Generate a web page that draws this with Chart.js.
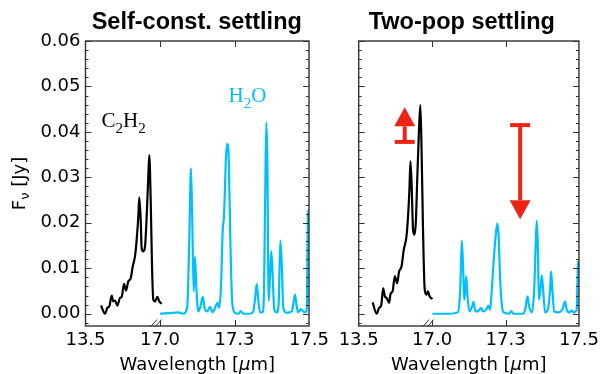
<!DOCTYPE html>
<html>
<head>
<meta charset="utf-8">
<script src="https://cdn.jsdelivr.net/npm/chart.js@4/dist/chart.umd.min.js"></script>
<style>
  html, body { margin: 0; padding: 0; background: #fff; }
  #wrap { position: relative; width: 603px; height: 374px; overflow: hidden; }
  canvas { position: absolute; top: 0; }
  #leftChart { left: 0; }
  #rightChart { left: 334px; }
</style>
</head>
<body>
<div id="wrap">
  <canvas id="leftChart" width="334" height="374"></canvas>
  <canvas id="rightChart" width="269" height="374"></canvas>
</div>
<script>
// Broken wavelength axis: labels sit at 0, 1, 2, 3 on the plot axis
const xTickLabels = ['13.5', '17.0', '17.3', '17.5'];
const yTicks = [0, 0.01, 0.02, 0.03, 0.04, 0.05, 0.06];

// Self-const. settling, C2H2 band
const selfC2h2X = [0.208, 0.262, 0.293, 0.319, 0.352, 0.373, 0.396, 0.427, 0.463, 0.486, 0.517, 0.544,
    0.574, 0.607, 0.634, 0.664, 0.687, 0.709, 0.722, 0.741, 0.754, 0.776, 0.799, 0.821, 0.843, 0.856,
    0.875, 0.893, 0.910, 0.933, 0.964, 0.991, 1.023];
const selfC2h2Y = [0.0018, 0.0000, 0.0013, 0.0016, 0.0040, 0.0027, 0.0029, 0.0018, 0.0035, 0.0037, 0.0066, 0.0051,
    0.0071, 0.0078, 0.0104, 0.0126, 0.0163, 0.0214, 0.0256, 0.0207, 0.0144, 0.0137, 0.0148, 0.0214, 0.0302, 0.0349,
    0.0251, 0.0104, 0.0031, 0.0027, 0.0037, 0.0027, 0.0022];

// Self-const. settling, H2O band
const selfH2oX = [1.000, 1.179, 1.246, 1.313, 1.366, 1.393, 1.416, 1.434, 1.452, 1.470, 1.487, 1.514,
    1.546, 1.573, 1.604, 1.635, 1.671, 1.707, 1.752, 1.774, 1.792, 1.819, 1.842, 1.859, 1.886, 1.903,
    1.922, 1.944, 1.970, 2.007, 2.051, 2.083, 2.118, 2.208, 2.252, 2.279, 2.298, 2.319, 2.342, 2.378,
    2.396, 2.413, 2.427, 2.440, 2.459, 2.477, 2.494, 2.513, 2.534, 2.566, 2.593, 2.615, 2.634, 2.655,
    2.701, 2.768, 2.795, 2.812, 2.835, 2.856, 2.889, 2.923, 2.950, 2.969, 2.987, 3.000];
const selfH2oY = [0.0000, 0.0002, 0.0003, 0.0000, 0.0016, 0.0163, 0.0320, 0.0199, 0.0049, 0.0125, 0.0060, 0.0005,
    0.0018, 0.0037, 0.0009, 0.0005, 0.0015, 0.0003, 0.0018, 0.0024, 0.0013, 0.0060, 0.0185, 0.0214, 0.0346, 0.0374,
    0.0346, 0.0163, 0.0024, 0.0002, 0.0000, 0.0006, 0.0000, 0.0000, 0.0005, 0.0038, 0.0065, 0.0031, 0.0003, 0.0003,
    0.0053, 0.0273, 0.0421, 0.0346, 0.0029, 0.0082, 0.0137, 0.0082, 0.0009, 0.0003, 0.0024, 0.0161, 0.0111, 0.0013,
    0.0002, 0.0005, 0.0027, 0.0042, 0.0016, 0.0003, 0.0010, 0.0005, 0.0003, 0.0009, 0.0221, 0.0229];

// Two-pop settling, C2H2 band
const twoC2h2X = [0.190, 0.244, 0.279, 0.306, 0.333, 0.357, 0.380, 0.415, 0.434, 0.461, 0.492, 0.523,
    0.550, 0.583, 0.614, 0.651, 0.672, 0.691, 0.705, 0.723, 0.740, 0.759, 0.777, 0.800, 0.821, 0.840,
    0.858, 0.876, 0.899, 0.922, 0.943, 0.967, 1.003];
const twoC2h2Y = [0.0025, 0.0000, 0.0013, 0.0018, 0.0056, 0.0038, 0.0035, 0.0024, 0.0044, 0.0049, 0.0082, 0.0067,
    0.0093, 0.0104, 0.0141, 0.0170, 0.0214, 0.0273, 0.0335, 0.0273, 0.0185, 0.0174, 0.0199, 0.0309, 0.0404, 0.0459,
    0.0346, 0.0185, 0.0053, 0.0042, 0.0049, 0.0038, 0.0032];

// Two-pop settling, H2O band
const twoH2oX = [1.003, 1.238, 1.350, 1.383, 1.404, 1.423, 1.437, 1.450, 1.464, 1.482, 1.509, 1.545,
    1.563, 1.590, 1.621, 1.668, 1.690, 1.735, 1.766, 1.789, 1.816, 1.838, 1.861, 1.888, 1.906, 1.925,
    1.952, 1.983, 2.051, 2.078, 2.105, 2.231, 2.268, 2.299, 2.322, 2.359, 2.390, 2.413, 2.426, 2.440,
    2.454, 2.475, 2.494, 2.512, 2.539, 2.576, 2.607, 2.620, 2.638, 2.661, 2.729, 2.783, 2.810, 2.833,
    2.864, 2.901, 2.932, 2.969, 2.987, 3.000];
const twoH2oY = [0.0000, 0.0000, 0.0003, 0.0053, 0.0161, 0.0097, 0.0031, 0.0053, 0.0082, 0.0038, 0.0005, 0.0016,
    0.0026, 0.0005, 0.0005, 0.0013, 0.0005, 0.0009, 0.0018, 0.0009, 0.0060, 0.0115, 0.0163, 0.0199, 0.0170, 0.0082,
    0.0016, 0.0002, 0.0000, 0.0006, 0.0000, 0.0000, 0.0009, 0.0038, 0.0016, 0.0003, 0.0053, 0.0163, 0.0205, 0.0148,
    0.0031, 0.0053, 0.0084, 0.0053, 0.0003, 0.0009, 0.0053, 0.0093, 0.0053, 0.0005, 0.0003, 0.0013, 0.0027, 0.0009,
    0.0003, 0.0007, 0.0003, 0.0009, 0.0111, 0.0116];

// Red arrows in the two-pop panel (from bar to arrow tip)
const arrowX = [0.627, 2.199];
const arrowFrom = [0.0378, 0.0415];
const arrowTo = [0.0454, 0.0208];

const BLUE = '#00bfff';
const RED = '#ec2415';
const TICK_FONT = '"DejaVu Sans", sans-serif';

function toPoints(xs, ys) {
    return xs.map((x, i) => ({ x: x, y: ys[i] }));
}

// draws text with subscripts, parts = [[text, isSub], ...]
function drawSubText(ctx, parts, x, y, size, subSize, family, subDrop) {
    let cx = x;
    parts.forEach(p => {
        ctx.font = (p[1] ? subSize : size) + 'px ' + family;
        ctx.fillText(p[0], cx, p[1] ? y + subDrop : y);
        cx += ctx.measureText(p[0]).width;
    });
}

// frame, inward ticks, titles and labels
const framePlugin = {
    id: 'frame',
    afterDatasetsDraw(chart, args, o) {
        const { ctx, chartArea: a, scales: { x, y } } = chart;
        ctx.save();

        ctx.strokeStyle = '#333';
        ctx.lineWidth = 1;
        // minor/major ticks on left and right spines
        for (let k = -1; k <= 30; k++) {
            const py = Math.round(y.getPixelForValue(k * 0.002)) + 0.5;
            const len = k % 5 === 0 ? 6 : 3;
            ctx.beginPath();
            ctx.moveTo(a.left, py); ctx.lineTo(a.left + len, py);
            ctx.moveTo(a.right, py); ctx.lineTo(a.right - len, py);
            ctx.stroke();
        }
        [1, 2].forEach(v => {
            const px = Math.round(x.getPixelForValue(v)) + 0.5;
            ctx.beginPath();
            ctx.moveTo(px, a.top); ctx.lineTo(px, a.top + 6);
            ctx.moveTo(px, a.bottom); ctx.lineTo(px, a.bottom - 6);
            ctx.stroke();
        });

        ctx.lineWidth = 1.4;
        ctx.strokeRect(a.left, a.top, a.right - a.left, a.bottom - a.top);

        // axis break marks
        const bx = x.getPixelForValue(1);
        ctx.lineWidth = 1;
        ctx.beginPath();
        ctx.moveTo(bx - 9.5, a.bottom + 1); ctx.lineTo(bx - 3, a.bottom - 6.5);
        ctx.moveTo(bx - 5, a.bottom + 1); ctx.lineTo(bx + 1.5, a.bottom - 6.5);
        ctx.stroke();

        // panel title
        ctx.fillStyle = '#000';
        ctx.textAlign = 'center';
        ctx.textBaseline = 'alphabetic';
        ctx.font = 'bold 23.5px "Liberation Sans", Arial, sans-serif';
        ctx.fillText(o.title, (a.left + a.right) / 2 + o.titleShift, 28.5);

        // x axis title with italic mu
        ctx.textAlign = 'left';
        const cx = (a.left + a.right) / 2;
        const pieces = [['Wavelength [', ''], ['\u03bc', 'italic '], ['m]', '']];
        let total = 0;
        pieces.forEach(p => { ctx.font = p[1] + '18px ' + TICK_FONT; total += ctx.measureText(p[0]).width; });
        let tx = cx - total / 2;
        pieces.forEach(p => {
            ctx.font = p[1] + '18px ' + TICK_FONT;
            ctx.fillText(p[0], tx, 369.5);
            tx += ctx.measureText(p[0]).width;
        });

        if (o.yLabel) {
            ctx.save();
            ctx.translate(25, (a.top + a.bottom) / 2);
            ctx.rotate(-Math.PI / 2);
            ctx.font = '18px ' + TICK_FONT;
            const w1 = ctx.measureText('F').width;
            const w3 = ctx.measureText(' [Jy]').width;
            ctx.font = '13px ' + TICK_FONT;
            const w2 = ctx.measureText('\u03bd').width;
            drawSubText(ctx, [['F', false], ['\u03bd', true], [' [Jy]', false]],
                -(w1 + w2 + w3) / 2, 0, 18, 13, TICK_FONT, 4);
            ctx.restore();
        }

        if (o.species) {
            ctx.fillStyle = '#000';
            drawSubText(ctx, [['C', false], ['2', true], ['H', false], ['2', true]],
                101.5, 126.5, 21, 15, '"Liberation Serif", serif', 6);
            ctx.fillStyle = BLUE;
            drawSubText(ctx, [['H', false], ['2', true], ['O', false]],
                228.5, 101.5, 21, 15, '"Liberation Serif", serif', 6);
        }

        if (o.arrows) {
            ctx.fillStyle = RED;
            arrowX.forEach((v, i) => {
                const px = x.getPixelForValue(v);
                const y0 = y.getPixelForValue(arrowFrom[i]);
                const y1 = y.getPixelForValue(arrowTo[i]);
                const dir = Math.sign(y1 - y0);
                const headBase = y1 - dir * 19;
                ctx.fillRect(px - 10, y0 - 2, 20, 4);
                ctx.fillRect(px - 2, Math.min(y0, headBase), 4, Math.abs(headBase - y0));
                ctx.beginPath();
                ctx.moveTo(px - 10.5, headBase);
                ctx.lineTo(px + 10.5, headBase);
                ctx.lineTo(px, y1);
                ctx.closePath();
                ctx.fill();
            });
        }
        ctx.restore();
    }
};

function buildChart(id, c2h2, h2o, opt) {
    return new Chart(document.getElementById(id), {
        type: 'line',
        data: {
            datasets: [{
                label: 'C2H2',
                data: c2h2,
                borderColor: '#000',
                borderWidth: 2.2,
                pointRadius: 0,
                cubicInterpolationMode: 'monotone'
            }, {
                label: 'H2O',
                data: h2o,
                borderColor: BLUE,
                borderWidth: 2.2,
                pointRadius: 0,
                cubicInterpolationMode: 'monotone'
            }]
        },
        options: {
            responsive: false,
            animation: false,
            devicePixelRatio: 1,
            layout: { padding: { left: 0, right: opt.padRight, top: 41, bottom: 0 } },
            plugins: {
                legend: { display: false },
                tooltip: { enabled: false },
                frame: opt
            },
            scales: {
                x: {
                    type: 'linear',
                    min: 0,
                    max: 3,
                    grid: { display: false, drawTicks: false },
                    border: { display: false },
                    ticks: {
                        stepSize: 1,
                        autoSkip: false,
                        maxRotation: 0,
                        padding: 4,
                        color: '#000',
                        font: { family: TICK_FONT, size: 18 },
                        callback: v => xTickLabels[v]
                    },
                    afterFit: s => { s.height = 48; }
                },
                y: {
                    min: -0.0027,
                    max: 0.06,
                    grid: { display: false, drawTicks: false },
                    border: { display: false },
                    afterBuildTicks: s => { s.ticks = yTicks.map(v => ({ value: v })); },
                    ticks: {
                        display: opt.yLabel,
                        padding: 5,
                        color: '#000',
                        font: { family: TICK_FONT, size: 18 },
                        callback: v => v.toFixed(2)
                    },
                    afterFit: s => { s.width = opt.yWidth; }
                }
            }
        },
        plugins: [framePlugin]
    });
}

buildChart('leftChart', toPoints(selfC2h2X, selfC2h2Y), toPoints(selfH2oX, selfH2oY), {
    title: 'Self-const. settling', titleShift: -0.5, yLabel: true, species: true, arrows: false,
    yWidth: 85.5, padRight: 25
});
buildChart('rightChart', toPoints(twoC2h2X, twoC2h2Y), toPoints(twoH2oX, twoH2oY), {
    title: 'Two-pop settling', titleShift: -7, yLabel: false, species: false, arrows: true,
    yWidth: 24.7, padRight: 23
});
</script>
</body>
</html>
